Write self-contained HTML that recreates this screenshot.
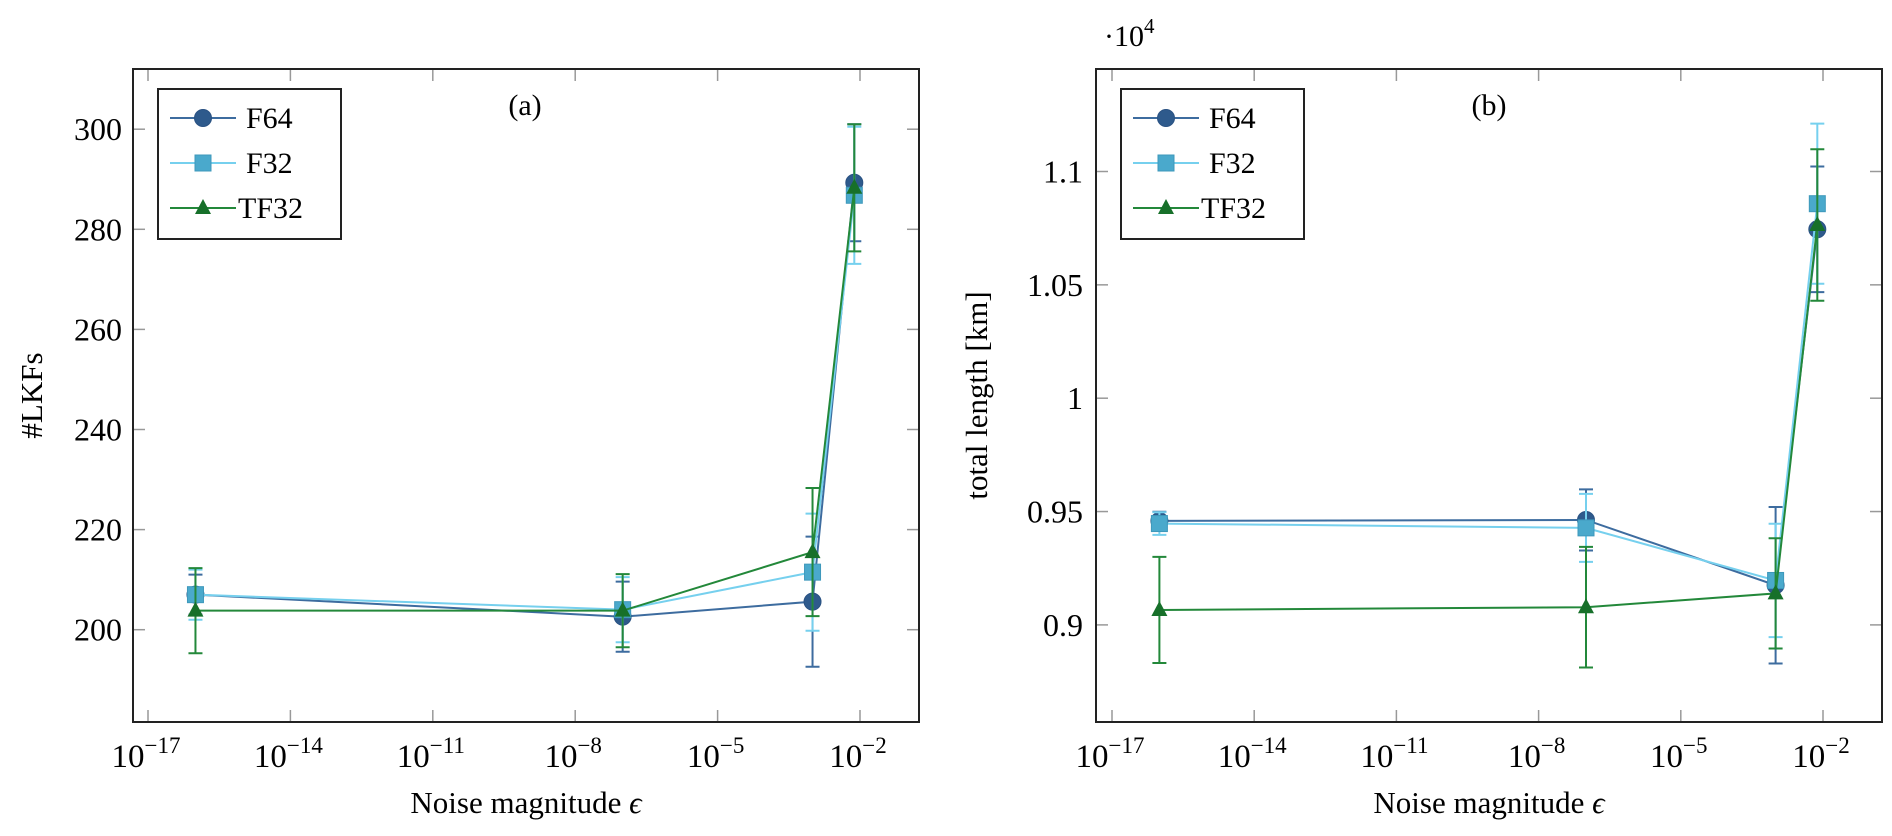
<!DOCTYPE html>
<html><head><meta charset="utf-8"><style>
html,body{margin:0;padding:0;background:#fff;}
svg{display:block;font-family:"Liberation Serif",serif;}
</style></head><body>
<svg id="chart" width="1892" height="836" viewBox="0 0 1892 836" xmlns="http://www.w3.org/2000/svg"></svg>
<script>
// shared x (log10 of noise magnitude)
const noiseExp = [-16, -7, -3, -2.12];
const xTickExp = [-17, -14, -11, -8, -5, -2];
const seriesNames = ["F64", "F32", "TF32"];
// panel (a): #LKFs
const lkfF64 = [207, 202.6, 205.6, 289.3];
const lkfF64Err = [4, 7, 13, 11.7];
const lkfF32 = [207, 204, 211.5, 286.8];
const lkfF32Err = [5, 6.5, 11.7, 13.7];
const lkfTF32 = [203.8, 203.8, 215.5, 288.3];
const lkfTF32Err = [8.5, 7.3, 12.8, 12.7];
const lkfTicks = [200, 220, 240, 260, 280, 300];
// panel (b): total length (x1e4 km)
const lenF64 = [0.9459, 0.9463, 0.9175, 1.0745];
const lenF64Err = [0.004, 0.0135, 0.0345, 0.0277];
const lenF32 = [0.9447, 0.9428, 0.9196, 1.0858];
const lenF32Err = [0.005, 0.015, 0.025, 0.0353];
const lenTF32 = [0.9066, 0.9078, 0.9139, 1.0764];
const lenTF32Err = [0.0234, 0.0266, 0.0243, 0.0334];
const lenTicks = [0.9, 0.95, 1, 1.05, 1.1];
const lenTickLabels = ["0.9", "0.95", "1", "1.05", "1.1"];

const NS = "http://www.w3.org/2000/svg";
const svg = document.getElementById("chart");
function mk(tag, attrs, parent) {
  const e = document.createElementNS(NS, tag);
  for (const k in attrs) e.setAttribute(k, attrs[k]);
  (parent || svg).appendChild(e);
  return e;
}
const colors = {F64: ["#3d6c9f", "#2e5a8c"], F32: ["#76d0ee", "#4aa9cc"], TF32: ["#23883a", "#17702a"]};

function panel(cfg) {
  const g = mk("g", {});
  
  
  const L = cfg.x0, R = cfg.x1, T = 69, B = 722;
  const xs = e => cfg.xa + (e + 17) * (cfg.xb - cfg.xa) / 15;
  const ys = v => cfg.ya + (v - cfg.v0) * (cfg.yb - cfg.ya) / (cfg.v1 - cfg.v0);
  xTickExp.forEach(e => {
    const x = xs(e);
    const t1 = mk("line", {x1: x, x2: x, y1: B, y2: B - 12, stroke: "#999", "stroke-width": 1.5}, g);
    
    
    mk("line", {x1: x, x2: x, y1: T, y2: T + 12, stroke: "#999", "stroke-width": 1.5}, g);
    const tx = mk("text", {x: x - 2, y: 767, "font-size": 33, "text-anchor": "middle"}, g);
    
    
    tx.innerHTML = '10<tspan dy="-14" font-size="23">\u2212' + Math.abs(e) + '</tspan>';
  });
  cfg.ticks.forEach((v, i) => {
    const y = ys(v);
    mk("line", {x1: L, x2: L + 12, y1: y, y2: y, stroke: "#999", "stroke-width": 1.5}, g);
    mk("line", {x1: R, x2: R - 12, y1: y, y2: y, stroke: "#999", "stroke-width": 1.5}, g);
    const t = mk("text", {x: cfg.labX, y: y + 11, "font-size": 32, "text-anchor": "end"}, g);
    
    
    t.textContent = cfg.tickLabels[i];
  });
  const fr = mk("rect", {x: L, y: T, width: R - L, height: B - T, fill: "none", stroke: "#222", "stroke-width": 2}, g);
  
  
  const order = ["F64", "F32", "TF32"];
  order.forEach((nm, si) => {
    const vals = cfg.data[si], errs = cfg.err[si];
    const [lc, mc] = colors[nm];
    const sg = mk("g", {}, g);
    
    
    vals.forEach((v, i) => {
      const x = xs(noiseExp[i]);
      const yh = ys(v + errs[i]), yl = ys(v - errs[i]);
      const eb = mk("path", {d: `M${x},${yh}V${yl}M${x-7},${yh}H${x+7}M${x-7},${yl}H${x+7}`, stroke: lc, "stroke-width": 2, fill: "none"}, sg);
      
      
    });
    const pts = vals.map((v, i) => xs(noiseExp[i]) + "," + ys(v)).join(" ");
    const pl = mk("polyline", {points: pts, fill: "none", stroke: lc, "stroke-width": 2}, sg);
    
    
    vals.forEach((v, i) => {
      const x = xs(noiseExp[i]), y = ys(v);
      const m = marker(nm, x, y, mc, sg);
      
      
    });
  });
  const lg = mk("g", {}, g);
  
  
  const lx = L + 25, ly = 89;
  mk("rect", {x: lx, y: ly, width: 183, height: 150, fill: "#fff", stroke: "#222", "stroke-width": 2}, lg);
  order.forEach((nm, i) => {
    const y = ly + 29 + i * 45;
    const [lc, mc] = colors[nm];
    const eg = mk("g", {}, lg);
    
    
    mk("line", {x1: lx + 12, x2: lx + 78, y1: y, y2: y, stroke: lc, "stroke-width": 2}, eg);
    marker(nm, lx + 45, y, mc, eg);
    const t = mk("text", {x: lx + 88 + (nm === "TF32" ? -8 : 0), y: y + 10, "font-size": 30}, eg);
    t.textContent = nm;
  });
  const ttl = mk("text", {x: cfg.titleX, y: 115, "font-size": 30, "text-anchor": "middle"}, g);
  
  
  ttl.textContent = cfg.title;
  const xl = mk("text", {x: (L + R) / 2, y: 813, "font-size": 31, "text-anchor": "middle"}, g);
  
  
  xl.innerHTML = 'Noise magnitude <tspan font-style="italic">\u03f5</tspan>';
  const yl = mk("text", {x: 0, y: 0, "font-size": 31, "text-anchor": "middle", transform: `translate(${cfg.ylabX},${(T + B) / 2}) rotate(-90)`}, g);
  
  
  yl.textContent = cfg.ylabel;
}
function marker(nm, x, y, c, parent) {
  if (nm === "F64") return mk("circle", {cx: x, cy: y, r: 8.5, fill: c, stroke: "#2a5283", "stroke-width": 1}, parent);
  if (nm === "F32") return mk("rect", {x: x - 8, y: y - 8, width: 16, height: 16, fill: c, stroke: "#3e98bb", "stroke-width": 1}, parent);
  return mk("path", {d: `M${x},${y-9}L${x+8},${y+6}L${x-8},${y+6}Z`, fill: c}, parent);
}

panel({name: "panel-a", x0: 133, x1: 919, xa: 148, xb: 860, ya: 629.7, yb: 129.2, v0: 200, v1: 300,
  ticks: lkfTicks, tickLabels: lkfTicks.map(String), labX: 122, title: "(a)", titleX: 525, ylabX: 42, ylabel: "#LKFs",
  data: [lkfF64, lkfF32, lkfTF32], err: [lkfF64Err, lkfF32Err, lkfTF32Err]});
panel({name: "panel-b", x0: 1096, x1: 1882, xa: 1112, xb: 1823, ya: 624.9, yb: 171.5, v0: 0.9, v1: 1.1,
  ticks: lenTicks, tickLabels: lenTickLabels, labX: 1083, title: "(b)", titleX: 1489, ylabX: 987, ylabel: "total length [km]",
  data: [lenF64, lenF32, lenTF32], err: [lenF64Err, lenF32Err, lenTF32Err]});
const sc = mk("text", {x: 1104, y: 46, "font-size": 30});


sc.innerHTML = '\u00b710<tspan dy="-13" font-size="21">4</tspan>';
</script>
</body></html>
